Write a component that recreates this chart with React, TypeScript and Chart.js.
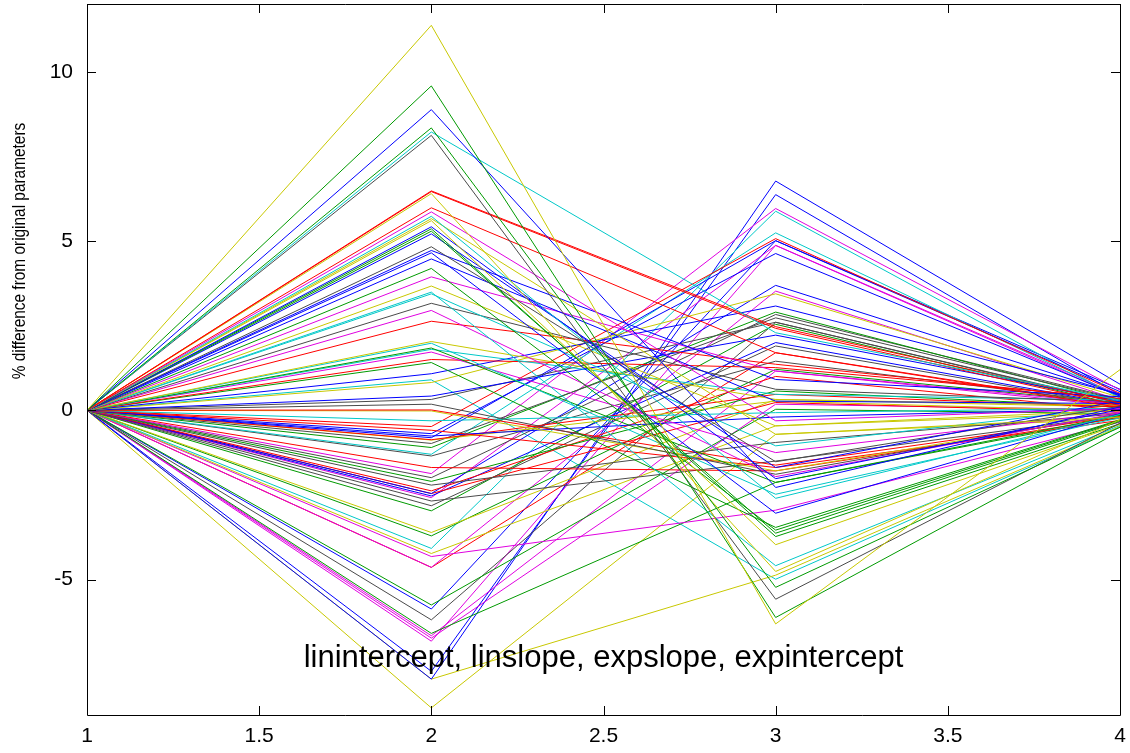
import React, { useEffect, useRef } from "react";
import { Chart, registerables } from "chart.js";

Chart.register(...registerables);

// x positions of each polyline (parameter index)
const xPositions = [1, 2, 3, 4];
const startValue = 0;

// values at x = 2, 3, 4 for each trial line
const valuesAt2 = [
  11.37, 9.58, 8.88, 8.34, 8.22, 8.12, 6.48, 6.46, 6.4, 5.98, 5.86, 5.73, 5.66, 5.6, 5.42, 5.36, 5.29, 5.21,
  4.83, 4.72, 4.65, 4.47, 4.19, 3.94, 3.67, 3.49, 3.44, 3.16, 2.95, 2.63, 2.03, 1.98, 1.84, 1.8, 1.72, 1.5,
  1.41, 1.08, 0.82, 0.42, 0.32, 0.18, 0.01, -0.02, -0.31, -0.48, -0.59, -0.69, -0.76, -0.81, -0.87, -0.88,
  -0.98, -1.1, -1.3, -1.35, -1.69, -1.87, -1.99, -2.1, -2.21, -2.38, -2.46, -2.46, -2.53, -2.58, -2.68, -2.82,
  -2.97, -3.61, -3.71, -4.08, -4.23, -4.32, -4.64, -4.64, -5.75, -5.87, -6.19, -6.59, -6.66, -6.73, -6.82,
  -7.71, -7.94, -7.94, -8.79, 0.9,
];
const valuesAt3 = [
  -6.31, -6.12, -2.28, -5.23, 2.29, -5.58, 2.47, 2.42, -4.76, 1.7, -0.31, -2.6, -0.71, -3.97, -2.02, -3.73, -3.63, -1.69,
  -1.52, 0.91, -3.04, 0.27, -3.54, 1.16, -0.46, -4.59, -1.05, 0.62, -1.96, 1.36, 0.32, -2.48, -2.13, 0.47, -1.25, 1.26,
  -3.46, 3.08, 3.44, 2.22, 2.6, -1.89, -1.62, -1.79, -0.07, 5.07, -1.69, 4.63, -0.2, 5.01, 0.47, 0.27,
  2.73, 2.9, 5.24, 1.45, -1.79, 5.96, 2.83, 0.57, -0.95, 1.0, 3.69, 0.23, 2.0, 4.87, -1.5, 1.9,
  2.54, 0.32, 1.21, 5.88, -0.46, -2.95, 3.52, 1.7, 0.03, 5.01, 2.6, -2.13, 1.16, 0.18, 4.87,
  6.37, 6.77, -4.87, -0.71, -4.99,
];
const valuesAt4 = [
  1.2, -0.62, 0.1, -0.5, 0.3, -0.38, 0.22, 0.14, -0.28, 0.08, 0.05, -0.12, -0.2, -0.42, 0.02, -0.4, -0.33, 0.28,
  0.12, 0.4, -0.1, 0.2, -0.3, 0.18, 0.0, -0.45, 0.1, 0.25, -0.08, 0.32, 0.15, -0.22, -0.15, 0.3, -0.05, 0.35,
  -0.28, 0.48, 0.38, 0.26, 0.2, -0.1, -0.18, -0.12, 0.06, 0.5, -0.3, 0.42, 0.04, 0.55, 0.1, -0.02,
  0.3, 0.24, 0.4, 0.2, -0.22, 0.6, 0.32, 0.1, -0.1, 0.0, 0.45, -0.05, 0.16, 0.45, -0.15, 0.14,
  0.15, 0.1, 0.2, 0.36, -0.08, -0.35, 0.3, 0.12, -0.1, 0.62, 0.22, -0.2, 0.12, 0.02, 0.4,
  0.45, 0.77, -0.48, -0.25, -0.5,
];
// colour key of each line: R red, G green, B blue, M magenta, C cyan, Y yellow, K dark grey
const lineColorKeys = [
  "Y", "G", "B", "G", "C", "K", "R", "R", "Y", "R", "M", "C", "Y", "Y", "B", "G", "G", "B",
  "K", "B", "B", "B", "G", "M", "Y", "C", "C", "K", "M", "R", "Y", "C", "G", "C", "M", "R",
  "G", "B", "Y", "B", "K", "K", "R", "Y", "C", "R", "R", "B", "B", "B", "R", "Y",
  "K", "G", "C", "K", "R", "M", "K", "G", "K", "R", "B", "R", "B", "M", "K", "K",
  "G", "Y", "G", "C", "Y", "M", "M", "R", "G", "B", "K", "G", "M", "M", "M",
  "B", "B", "Y", "Y", "C",
];
const palette: Record<string, string> = {
  R: "#ff0000",
  G: "#009a00",
  B: "#0000ff",
  M: "#e000e0",
  C: "#00c8c8",
  Y: "#c8c800",
  K: "#4a4a4a",
};

const xTickValues = [1, 1.5, 2, 2.5, 3, 3.5, 4];
const yTickValues = [-5, 0, 5, 10];
const yAxisLabel = "% difference from original parameters";
const plotLabel = "linintercept, linslope, expslope, expintercept";

const FONT = "'Liberation Sans', Arial, Helvetica, sans-serif";

export default function App() {
  const canvasRef = useRef<HTMLCanvasElement | null>(null);

  useEffect(() => {
    document.body.style.margin = "0";
    const canvas = canvasRef.current;
    if (!canvas) return;

    const datasets = valuesAt2.map((v2, i) => ({
      data: [
        { x: xPositions[0], y: startValue },
        { x: xPositions[1], y: v2 },
        { x: xPositions[2], y: valuesAt3[i] },
        { x: xPositions[3], y: valuesAt4[i] },
      ],
      borderColor: palette[lineColorKeys[i]],
      borderWidth: 1,
      pointRadius: 0,
      tension: 0,
      fill: false,
    }));

    const framePlugin = {
      id: "gnuplotFrame",
      afterDraw(chart: any) {
        const { ctx, chartArea } = chart;
        const { left, right, top, bottom } = chartArea;
        const xs = chart.scales.x;
        const ys = chart.scales.y;
        ctx.save();
        ctx.strokeStyle = "#000";
        ctx.lineWidth = 1;
        ctx.beginPath();
        ctx.rect(Math.round(left) + 0.5, Math.round(top) + 0.5, Math.round(right - left), Math.round(bottom - top));
        const tl = 9;
        xTickValues.forEach((v) => {
          const px = Math.round(xs.getPixelForValue(v)) + 0.5;
          ctx.moveTo(px, bottom);
          ctx.lineTo(px, bottom - tl);
          ctx.moveTo(px, top);
          ctx.lineTo(px, top + tl);
        });
        yTickValues.forEach((v) => {
          const py = Math.round(ys.getPixelForValue(v)) + 0.5;
          ctx.moveTo(left, py);
          ctx.lineTo(left + tl, py);
          ctx.moveTo(right, py);
          ctx.lineTo(right - tl, py);
        });
        ctx.stroke();

        ctx.fillStyle = "#000";
        ctx.font = `31px ${FONT}`;
        ctx.textAlign = "center";
        ctx.textBaseline = "alphabetic";
        ctx.fillText(plotLabel, (left + right) / 2, 667);

        ctx.translate(20, 251);
        ctx.rotate(-Math.PI / 2);
        ctx.scale(0.88, 1);
        ctx.font = `17.5px ${FONT}`;
        ctx.textBaseline = "middle";
        ctx.fillText(yAxisLabel, 0, 0);
        ctx.restore();
      },
    };

    const zeroPad = (axis: any) => {
      axis.paddingLeft = 0;
      axis.paddingRight = 0;
      axis.paddingTop = 0;
      axis.paddingBottom = 0;
    };

    const chart = new Chart(canvas, {
      type: "line",
      data: { datasets },
      options: {
        animation: false,
        responsive: false,
        maintainAspectRatio: false,
        layout: { padding: { left: 0, right: 10, top: 4, bottom: 0 } },
        plugins: { legend: { display: false }, tooltip: { enabled: false } },
        scales: {
          x: {
            type: "linear",
            min: 1,
            max: 4,
            grid: { display: false, drawTicks: false },
            border: { display: false },
            ticks: {
              color: "#000",
              font: { family: FONT, size: 21 },
              padding: 9,
              maxRotation: 0,
              callback: (v: any) => String(v),
            },
            afterBuildTicks: (axis: any) => {
              axis.ticks = xTickValues.map((v) => ({ value: v }));
            },
            afterFit: (axis: any) => {
              axis.height = 38;
              zeroPad(axis);
            },
          },
          y: {
            type: "linear",
            min: -9,
            max: 12,
            grid: { display: false, drawTicks: false },
            border: { display: false },
            ticks: {
              color: "#000",
              font: { family: FONT, size: 21 },
              padding: 14,
              callback: (v: any) => String(v),
            },
            afterBuildTicks: (axis: any) => {
              axis.ticks = yTickValues.map((v) => ({ value: v }));
            },
            afterFit: (axis: any) => {
              axis.width = 87;
              zeroPad(axis);
            },
          },
        },
      },
      plugins: [framePlugin],
    });

    return () => chart.destroy();
  }, []);

  return (
    <div style={{ width: 1130, height: 753 }}>
      <canvas ref={canvasRef} width={1130} height={753} style={{ display: "block" }} />
    </div>
  );
}
